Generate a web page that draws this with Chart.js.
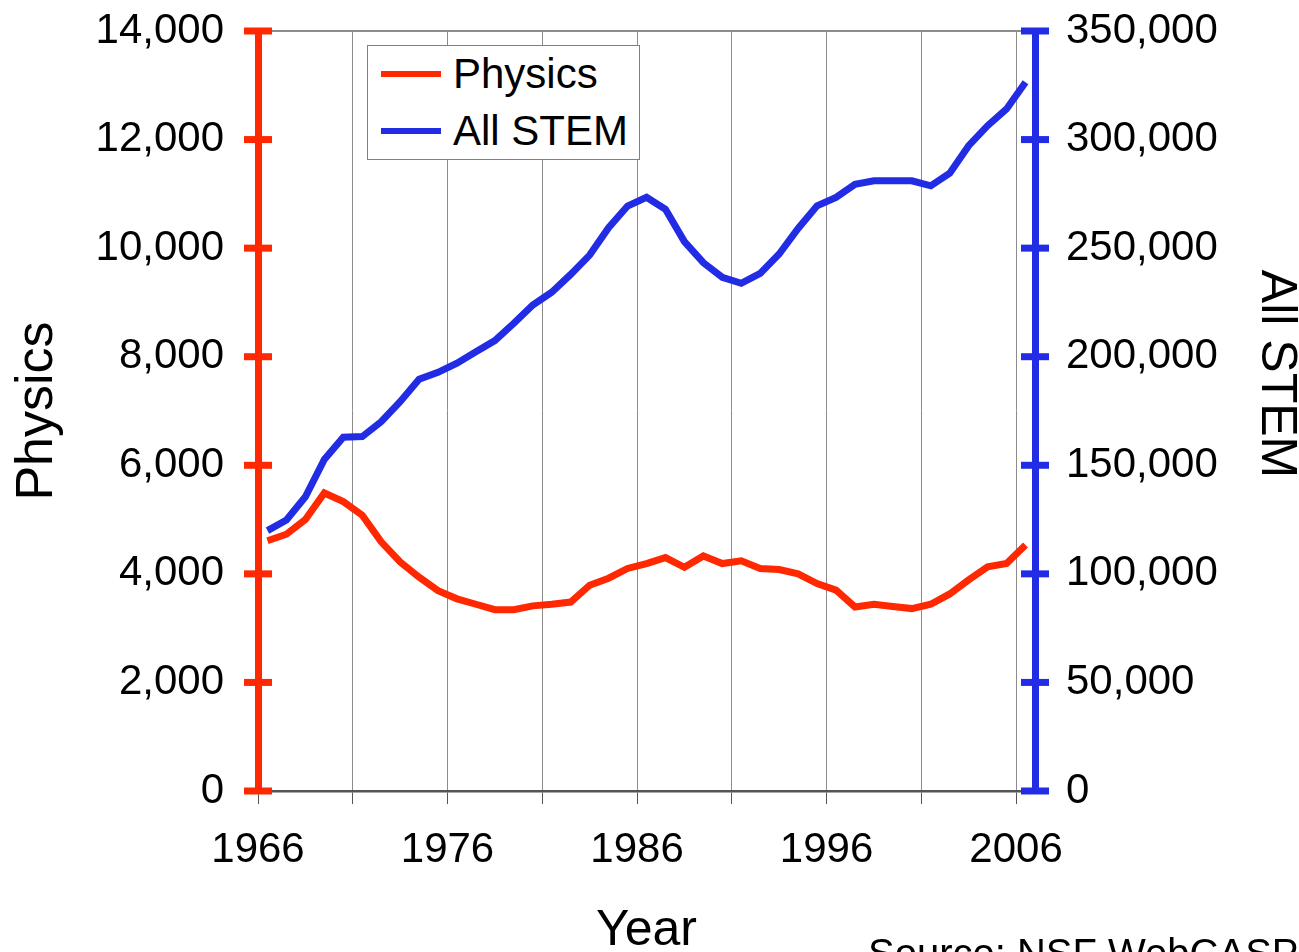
<!DOCTYPE html>
<html>
<head>
<meta charset="utf-8">
<script src="https://cdn.jsdelivr.net/npm/chart.js@4.4.1/dist/chart.umd.min.js"></script>
<style>
  body { margin: 0; background: #fff; }
  #wrap { position: relative; width: 1299px; height: 952px; overflow: hidden; }
  #legend {
    position: absolute; left: 367px; top: 45px; width: 271px; height: 113px;
    border: 1px solid #808080; background: #fff;
    font-family: "Liberation Sans", Arial, sans-serif; font-size: 42px; color: #000;
  }
  .item { position: absolute; left: 13px; height: 50px; display: flex; align-items: center; white-space: nowrap; }
  .swatch { width: 60px; height: 6px; margin-right: 12px; }
</style>
</head>
<body>
<div id="wrap">
  <canvas id="myChart" width="1299" height="952"></canvas>
  <div id="legend"></div>
</div>
<script>
const years = [1966, 1967, 1968, 1969, 1970, 1971, 1972, 1973, 1974, 1975,
  1976, 1977, 1978, 1979, 1980, 1981, 1982, 1983, 1984, 1985,
  1986, 1987, 1988, 1989, 1990, 1991, 1992, 1993, 1994, 1995,
  1996, 1997, 1998, 1999, 2000, 2001, 2002, 2003, 2004, 2005, 2006];

const physics = [4610, 4730, 5000, 5490, 5330, 5080, 4590, 4220, 3940, 3690,
  3540, 3440, 3340, 3340, 3410, 3440, 3480, 3790, 3920, 4100,
  4190, 4300, 4120, 4330, 4190, 4240, 4100, 4080, 4000, 3820,
  3700, 3390, 3440, 3400, 3360, 3440, 3630, 3890, 4130, 4190, 4530];

const allStem = [119900, 124800, 135500, 152700, 162900, 163200, 170100, 179300, 189600, 192800,
  197000, 202300, 207400, 215400, 223800, 229700, 237900, 246800, 259400, 269400,
  273400, 267900, 253000, 243300, 236600, 233800, 238400, 247300, 259100, 269500,
  273400, 279400, 281000, 281000, 281000, 278700, 284500, 297200, 306400, 314100, 326400];

const gridYears = [1966, 1971, 1976, 1981, 1986, 1991, 1996, 2001, 2006];
const labelYears = [1966, 1976, 1986, 1996, 2006];

const red = "rgb(255, 40, 0)";
const blue = "rgb(34, 44, 228)";
const fontFamily = '"Liberation Sans", Arial, sans-serif';

Chart.defaults.font.family = fontFamily;
Chart.defaults.color = "#000";

const data = {
  datasets: [
    {
      label: "Physics",
      data: years.map((yr, i) => ({ x: yr + 0.5, y: physics[i] })),
      borderColor: red,
      backgroundColor: red,
      borderWidth: 7,
      pointRadius: 0,
      tension: 0,
      yAxisID: "y",
    },
    {
      label: "All STEM",
      data: years.map((yr, i) => ({ x: yr + 0.5, y: allStem[i] })),
      borderColor: blue,
      backgroundColor: blue,
      borderWidth: 7,
      pointRadius: 0,
      tension: 0,
      yAxisID: "y1",
    },
  ],
};

// ticks that cross the coloured axis lines
const crossTicks = {
  id: "crossTicks",
  afterDraw(chart) {
    const ctx = chart.ctx;
    ["y", "y1"].forEach((id) => {
      const scale = chart.scales[id];
      const x = id === "y" ? chart.chartArea.left : chart.chartArea.right;
      ctx.save();
      ctx.strokeStyle = scale.options.border.color;
      ctx.lineWidth = 7;
      scale.ticks.forEach((t) => {
        const y = scale.getPixelForValue(t.value);
        ctx.beginPath();
        ctx.moveTo(x - 14, y);
        ctx.lineTo(x + 14, y);
        ctx.stroke();
      });
      ctx.restore();
    });
  },
};

const extraText = {
  id: "extraText",
  afterDraw(chart) {
    const ctx = chart.ctx;
    ctx.save();
    ctx.fillStyle = "#000";
    // right axis title, reads top to bottom
    ctx.translate(1276, 374);
    ctx.rotate(Math.PI / 2);
    ctx.font = "50px " + fontFamily;
    ctx.textAlign = "center";
    ctx.textBaseline = "middle";
    ctx.fillText("All STEM", 0, 0);
    ctx.restore();

    ctx.save();
    ctx.fillStyle = "#000";
    ctx.font = "40px " + fontFamily;
    ctx.textAlign = "left";
    ctx.textBaseline = "alphabetic";
    ctx.fillText("Source: NSF WebCASPAR", 868, 967);
    ctx.restore();
  },
};

// y axes: keep the plot area up to the top, labels may overflow
const fitY = (w) => (s) => {
  s.width = w;
  s.paddingTop = 0;
  s.paddingBottom = 0;
};

const config = {
  type: "line",
  data: data,
  options: {
    responsive: false,
    animation: false,
    layout: { padding: 0 },
    plugins: {
      legend: { display: false },
      tooltip: { enabled: false },
    },
    scales: {
      x: {
        type: "linear",
        position: "bottom",
        min: 1966,
        max: 2007,
        afterBuildTicks: (axis) => {
          axis.ticks = gridYears.map((v) => ({ value: v }));
        },
        afterFit: (s) => { s.height = 161; },
        grid: { color: "#8c8c8c", lineWidth: 1, tickLength: 13, tickColor: "#555" },
        border: { color: "#555", width: 2.5 },
        ticks: {
          autoSkip: false,
          maxRotation: 0,
          padding: 21,
          font: { size: 42 },
          callback: (v) => (labelYears.includes(v) ? String(v) : ""),
        },
        title: {
          display: true,
          text: "Year",
          font: { size: 50, lineHeight: 0.8 },
          padding: { top: 0, bottom: 1 },
        },
      },
      x2: {
        type: "linear",
        position: "top",
        min: 1966,
        max: 2007,
        afterFit: (s) => { s.height = 31; },
        grid: { display: false, drawTicks: false },
        border: { color: "#8c8c8c", width: 2 },
        ticks: { display: false },
      },
      y: {
        type: "linear",
        position: "left",
        min: 0,
        max: 14000,
        afterFit: fitY(258),
        grid: { display: false, drawTicks: false },
        border: { color: red, width: 7 },
        ticks: {
          stepSize: 2000,
          padding: 34,
          font: { size: 42 },
          callback: (v) => v.toLocaleString("en-US"),
        },
        title: {
          display: true,
          text: "Physics",
          font: { size: 52 },
          padding: { top: 6, bottom: 0 },
        },
      },
      y1: {
        type: "linear",
        position: "right",
        min: 0,
        max: 350000,
        afterFit: fitY(264),
        grid: { display: false, drawTicks: false },
        border: { color: blue, width: 7 },
        ticks: {
          stepSize: 50000,
          padding: 31,
          font: { size: 42 },
          callback: (v) => v.toLocaleString("en-US"),
        },
      },
    },
  },
  plugins: [crossTicks, extraText],
};

const ctx1 = document.getElementById("myChart");
const chart1 = new Chart(ctx1, config);

// legend box drawn as html, built from the datasets
const legendBox = document.getElementById("legend");
const rowTops = [3, 60];
chart1.data.datasets.forEach((ds, i) => {
  const row = document.createElement("div");
  row.className = "item";
  row.style.top = rowTops[i] + "px";
  const sw = document.createElement("span");
  sw.className = "swatch";
  sw.style.background = ds.borderColor;
  const txt = document.createElement("span");
  txt.textContent = ds.label;
  row.appendChild(sw);
  row.appendChild(txt);
  legendBox.appendChild(row);
});
</script>
</body>
</html>
